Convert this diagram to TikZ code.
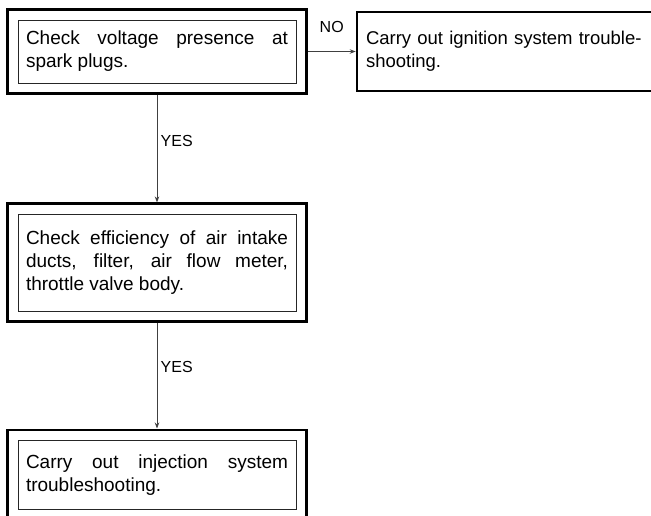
\documentclass[tikz,border=0pt]{standalone}
\usepackage{fontspec}
\setmainfont{Liberation Sans}
\usepackage{tikz}
\usetikzlibrary{arrows.meta, positioning, fit}

\begin{document}
\begin{tikzpicture}[
    x=1pt, y=1pt,
    every node/.style={font=\fontsize{19}{23}\selectfont},
    checkbox/.style={draw=black!85, line width=0.8pt, text width=262pt, inner xsep=8pt,
                inner ysep=0pt, align=justify},
    frame/.style={draw, line width=2.6pt, inner sep=10pt},
    actionbox/.style={draw, line width=2.6pt, text width=300pt, inner xsep=9pt,
                minimum height=79pt, align=left, font=\fontsize{18.5}{23}\selectfont},
    arrow/.style={-{Stealth[length=6pt, width=4.5pt]}, line width=0.8pt, draw=black!75},
    answer/.style={font=\fontsize{16}{18}\selectfont}
]
\useasboundingbox (0,0) rectangle (651,-515);
\clip (0,0) rectangle (651,-515);

\node[checkbox, minimum height=63pt] (voltage) at (157,-51.5)
    {Check voltage presence at\linebreak spark plugs.};
\node[frame, fit=(voltage)] (voltageframe) {};

\node[actionbox, right=48pt of voltageframe] (ignition)
    {Carry out ignition system trouble-\\shooting.};

\node[checkbox, minimum height=97pt, below=119pt of voltageframe] (efficiency)
    {Check efficiency of air intake\linebreak ducts, filter, air flow meter,\linebreak throttle valve body.};
\node[frame, fit=(efficiency)] (efficiencyframe) {};

\node[checkbox, minimum height=69pt, below=117pt of efficiencyframe] (injection)
    {Carry out injection system\linebreak troubleshooting.};
\node[frame, fit=(injection)] (injectionframe) {};

\draw[arrow] (voltageframe) -- node[answer, above=15.5pt, pos=.5]{NO} (ignition);
\draw[arrow] (voltageframe) -- node[answer, right, pos=.43]{YES} (efficiencyframe);
\draw[arrow] (efficiencyframe) -- node[answer, right, pos=.42]{YES} (injectionframe);
\end{tikzpicture}
\end{document}
